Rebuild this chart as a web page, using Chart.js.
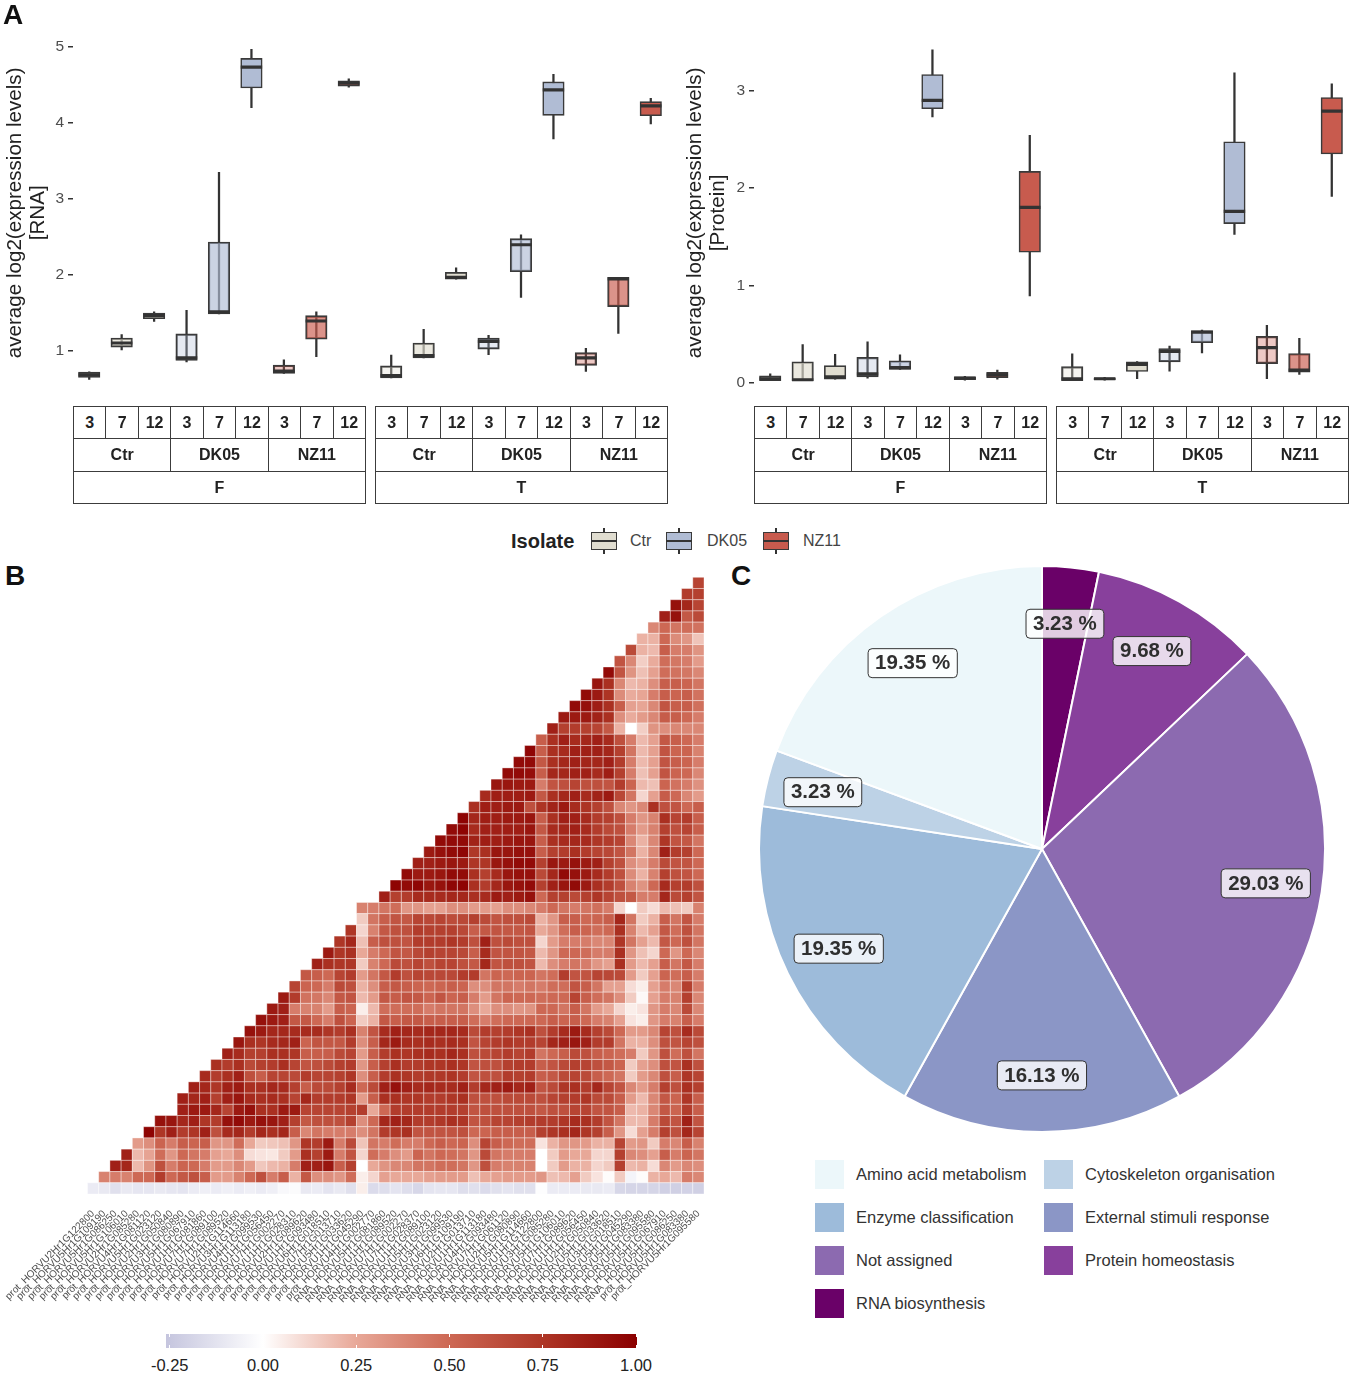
<!DOCTYPE html>
<html><head><meta charset="utf-8">
<script src="https://cdn.jsdelivr.net/npm/chart.js@4"></script>
<style>
html,body{margin:0;padding:0;background:#fff;width:1358px;height:1380px;overflow:hidden;font-family:"Liberation Sans",Arial,sans-serif}
canvas{position:absolute;display:block}
.t{position:absolute;white-space:nowrap;line-height:1}
.c{position:absolute;box-sizing:border-box;border:1.6px solid #3c3c3c;display:flex;align-items:center;justify-content:center;font-weight:bold;font-size:16px;color:#222;background:#fff;padding-top:1px}
.s{position:absolute}
</style></head><body>
<script>
// ---------- Panel A data ----------
const timeLabels=['3','7','12'];
const isolates=['Ctr','DK05','NZ11'];
const tissues=['F','T'];
const isolateFill=[[224,221,208],[176,188,212],[200,91,78]];
const timeAlpha=[0.33,0.66,1];
const rnaLow =[.62,1.01,1.385,.85,1.485,4.2,.70,.92,4.47,.64,.905,1.94,.945,1.70,3.79,.725,1.225,3.985];
const rnaQ1  =[.647,1.047,1.42,.87,1.485,4.46,.70,1.15,4.485,.64,.905,1.94,1.02,2.04,4.10,.805,1.58,4.095];
const rnaMed =[.68,1.10,1.46,.905,1.51,4.735,.73,1.39,4.525,.67,.935,1.965,1.12,2.395,4.435,.905,1.945,4.225];
const rnaQ3  =[.717,1.165,1.495,1.22,2.43,4.85,.81,1.46,4.555,.80,1.10,2.03,1.165,2.475,4.54,.975,1.965,4.28];
const rnaHigh=[.72,1.21,1.51,1.53,3.35,4.97,.88,1.51,4.58,.94,1.28,2.09,1.2,2.525,4.64,1.03,1.965,4.325];
const protLow =[.02,.02,.035,.045,.135,2.73,.025,.036,.89,.02,.026,.04,.118,.305,1.524,.04,.084,1.913];
const protQ1  =[.02,.02,.035,.06,.135,2.815,.03,.05,1.34,.02,.03,.115,.213,.41,1.634,.195,.107,2.35];
const protMed =[.04,.03,.06,.09,.155,2.90,.048,.08,1.80,.04,.04,.187,.32,.518,1.76,.36,.128,2.79];
const protQ3  =[.07,.215,.175,.26,.225,3.165,.06,.105,2.17,.165,.05,.213,.35,.536,2.475,.477,.30,2.93];
const protHigh=[.09,.39,.29,.42,.285,3.42,.066,.128,2.54,.295,.055,.217,.375,.54,3.184,.59,.455,3.07];
// ---------- Panel C data ----------
const pieCats=['RNA biosynthesis','Protein homeostasis','Not assigned','External stimuli response','Enzyme classification','Cytoskeleton organisation','Amino acid metabolism'];
const pieVals=[3.23,9.68,29.03,16.13,19.35,3.23,19.35];
const pieCols=['#6a0168','#88409c','#8c6ab0','#8b96c6','#9dbbda','#bdd2e6','#ecf7fa'];
const legendOrder=[6,5,4,3,2,1,0];
// ---------- Panel B data ----------
const geneLabels=['prot_HORVU2Hr1G122800','prot_HORVU5Hr1G109190','prot_HORVU5Hr1G086250','prot_HORVU5Hr1G106010','prot_HORVU2Hr1G085280','prot_HORVU4Hr1G081120','prot_HORVU5Hr1G023120','prot_HORVU2Hr1G050840','prot_HORVU3Hr1G080890','prot_HORVU5Hr1G067910','prot_HORVU1Hr1G081860','prot_HORVU7Hr1G089100','prot_HORVU7Hr1G089520','prot_HORVU2Hr1G114660','prot_HORVU3Hr1G113180','prot_HORVU4Hr1G099530','prot_HORVU1Hr1G056450','prot_HORVU7Hr1G002270','prot_HORVU1Hr1G028310','prot_HORVU2Hr1G089620','prot_HORVU1Hr1G093480','prot_HORVU6Hr1G018510','prot_HORVU7Hr1G013710','prot_HORVU5Hr1G033620','prot_HORVU1Hr1G045290','prot_HORVU4Hr1G002770',
'RNA_HORVU5Hr1G081860','RNA_HORVU1Hr1G089520','RNA_HORVU7Hr1G002270','RNA_HORVU7Hr1G028370','RNA_HORVU1Hr1G089100','RNA_HORVU5Hr1G023120','RNA_HORVU3Hr1G099530','RNA_HORVU6Hr1G109190','RNA_HORVU2Hr1G013710','RNA_HORVU1Hr1G113180','RNA_HORVU4Hr1G093480','RNA_HORVU7Hr1G061120','RNA_HORVU2Hr1G080890','RNA_HORVU5Hr1G114660','RNA_HORVU1Hr1G122800','RNA_HORVU3Hr1G085280','RNA_HORVU5Hr1G106010','RNA_HORVU7Hr1G089620','RNA_HORVU1Hr1G056450','RNA_HORVU2Hr1G050840','RNA_HORVU5Hr1G033620','RNA_HORVU3Hr1G018510','RNA_HORVU5Hr1G045290','RNA_HORVU5Hr1G083380','RNA_HORVU5Hr1G095580','RNA_HORVU5Hr1G067910','RNA_HORVU5Hr1G086250','prot_HORVU5Hr1G083380','prot_HORVU5Hr1G095580'];
const corrRows=[
[.68],
[.72,.7],
[.92,.82,.68],
[.85,.92,.58,.65],
[.38,.50,.45,.48,.46],
[.22,.22,.50,.36,.32,.17],
[.65,.22,.2,.55,.42,.42,.33],
[.6,.38,.14,.24,.48,.44,.42,.3],
[.95,.6,.33,.18,.28,.48,.46,.44,.38],
[.9,.78,.38,.2,.22,.35,.55,.55,.52,.45],
[.95,.88,.76,.36,.24,.26,.42,.55,.52,.55,.46],
[.95,.93,.86,.78,.55,.28,.26,.38,.6,.55,.55,.47],
[.88,.88,.88,.84,.78,.35,.24,.3,.38,.56,.55,.5,.42],
[.85,.7,.72,.7,.68,.58,.22,0,.14,.33,.35,.38,.38,.38],
[.55,.78,.85,.8,.82,.85,.8,.62,.42,.2,.28,.58,.55,.5,.42],
[.97,.55,.78,.8,.85,.85,.85,.82,.7,.45,.2,.28,.6,.52,.52,.4],
[.95,.95,.58,.78,.82,.85,.83,.82,.85,.72,.42,.2,.28,.6,.55,.52,.42],
[.95,.95,.93,.55,.82,.82,.85,.85,.8,.86,.7,.42,.18,.28,.6,.52,.5,.38],
[.9,.9,.88,.88,.42,.6,.62,.68,.62,.62,.6,.72,.52,.2,.18,.52,.46,.42,.34],
[.8,.86,.86,.86,.88,.58,.78,.82,.85,.8,.84,.88,.66,.45,.12,.28,.56,.5,.38,.3],
[.78,.86,.86,.88,.88,.62,.76,.84,.88,.8,.76,.7,.62,.38,.32,.38,.78,.62,.6,.5,.55],
[.98,.82,.86,.86,.88,.88,.9,.55,.78,.85,.85,.8,.72,.7,.62,.42,.32,.4,.78,.68,.72,.55],
[.95,.98,.8,.85,.85,.86,.86,.9,.58,.8,.82,.85,.8,.72,.65,.62,.42,.3,.4,.7,.62,.68,.55],
[.95,.95,.95,.84,.86,.86,.88,.9,.9,.55,.78,.8,.82,.8,.75,.72,.68,.38,.22,.38,.75,.6,.58,.45],
[.88,.92,.95,.97,.74,.78,.9,.9,.92,.92,.55,.7,.72,.78,.72,.68,.66,.6,.45,.22,.38,.85,.72,.7,.5],
[.85,.85,.88,.9,.88,.75,.75,.9,.92,.95,.95,.7,.9,.88,.92,.88,.85,.7,.62,.35,.28,.42,.65,.6,.6,.5],
[.95,.88,.88,.9,.95,.95,.78,.7,.8,.9,.92,.92,.65,.82,.95,.92,.88,.8,.72,.62,.36,.22,.4,.7,.62,.6,.5],
[.98,.95,.97,.9,.92,.97,.98,.78,.72,.82,.9,.92,.95,.7,.85,.9,.95,.88,.78,.72,.62,.4,.33,.5,.8,.7,.72,.62],
[.85,.7,.72,.8,.8,.8,.82,.82,.78,.8,.88,.85,.88,.92,.5,.7,.7,.65,.7,.75,.68,.62,.58,.42,.42,.82,.65,.7,.6],
[.4,.42,.45,.48,.32,.32,.28,.28,.35,.35,.3,.3,.28,.35,.35,.38,.42,.5,.45,.42,.45,.47,.42,.12,0,.15,.1,.2,.18,.15,.4],
[.15,.45,.55,.6,.58,.68,.66,.68,.64,.66,.7,.65,.6,.62,.62,.65,.22,.32,.55,.55,.5,.52,.55,.82,.45,.15,.22,.55,.45,.6,.42],
[.75,.12,.4,.58,.62,.62,.72,.7,.7,.7,.66,.55,.58,.6,.58,.58,.6,.25,.32,.48,.55,.52,.48,.5,.78,.4,.2,.28,.58,.48,.62,.45],
[.75,.82,.18,.55,.62,.62,.6,.72,.72,.72,.75,.72,.62,.85,.62,.65,.62,.62,.12,.3,.42,.42,.42,.38,.38,.75,.45,.28,.2,.58,.5,.62,.45],
[.88,.75,.78,.25,.42,.5,.6,.58,.66,.7,.68,.68,.66,.55,.8,.6,.6,.6,.58,.2,.32,.5,.5,.48,.42,.42,.78,.32,.18,.12,.5,.32,.5,.38],
[.85,.78,.75,.75,.15,.4,.5,.65,.62,.68,.62,.68,.68,.62,.58,.82,.6,.62,.62,.6,.2,.35,.42,.45,.42,.32,.28,.78,.3,.2,.28,.55,.45,.58,.42],
[.58,.55,.5,.68,.72,.3,.45,.58,.72,.62,.68,.66,.66,.66,.72,.72,.45,.52,.5,.52,.52,.45,.48,.72,.6,.6,.68,.66,.65,.3,.15,.28,.52,.48,.55,.42],
[.68,.52,.5,.42,.65,.62,.22,.35,.55,.58,.55,.52,.5,.52,.55,.52,.35,.35,.45,.45,.42,.45,.42,.48,.48,.6,.55,.45,.28,.28,.1,.05,.28,.42,.38,.7,.42],
[.88,.72,.46,.44,.38,.58,.6,.2,.3,.58,.56,.6,.58,.52,.6,.52,.55,.42,.3,.45,.52,.5,.5,.48,.5,.5,.68,.55,.48,.45,.35,.15,.02,.28,.42,.4,.7,.38],
[.88,.85,.42,.4,.4,.3,.55,.52,.05,.2,.48,.48,.48,.48,.42,.45,.45,.45,.35,.25,.35,.35,.32,.33,.5,.5,.45,.55,.45,.3,.25,.12,.05,.08,.32,.42,.38,.65,.38],
[.92,.88,.85,.58,.58,.5,.42,.62,.52,.15,.22,.58,.55,.58,.58,.55,.55,.55,.55,.48,.42,.48,.5,.5,.5,.5,.55,.52,.55,.5,.42,.4,.28,.08,.05,.32,.42,.4,.55,.42],
[.92,.88,.82,.82,.8,.8,.8,.75,.72,.78,.4,.6,.8,.85,.82,.8,.82,.82,.82,.8,.65,.72,.7,.72,.75,.78,.62,.72,.8,.88,.8,.7,.65,.5,.3,.3,.38,.68,.62,.8,.65],
[.9,.78,.75,.8,.82,.85,.52,.6,.58,.58,.72,.35,.55,.82,.88,.8,.78,.8,.78,.8,.78,.6,.68,.72,.75,.72,.72,.68,.82,.85,.9,.85,.72,.72,.45,.22,.22,.35,.62,.6,.68,.62],
[.85,.8,.7,.7,.78,.78,.75,.55,.55,.55,.65,.68,.3,.55,.72,.78,.75,.78,.8,.78,.82,.78,.62,.65,.68,.72,.68,.72,.45,.5,.55,.65,.62,.55,.52,.48,.42,.15,.32,.62,.48,.62,.45],
[.78,.72,.78,.65,.7,.72,.78,.68,.6,.62,.65,.7,.72,.32,.55,.7,.78,.72,.72,.75,.75,.78,.75,.6,.62,.62,.7,.72,.72,.55,.6,.65,.7,.68,.62,.58,.52,.15,.28,.35,.62,.6,.78,.62],
[.8,.72,.78,.85,.62,.55,.68,.68,.65,.72,.68,.68,.7,.75,.35,.55,.72,.78,.75,.72,.74,.74,.76,.72,.6,.62,.62,.72,.7,.72,.55,.58,.65,.68,.65,.55,.5,.45,.15,.3,.38,.62,.55,.75,.68],
[.85,.82,.75,.85,.88,.78,.78,.82,.8,.7,.55,.65,.65,.7,.8,.5,.65,.85,.92,.85,.8,.82,.8,.8,.85,.72,.82,.85,.88,.82,.85,.6,.65,.75,.78,.72,.82,.68,.6,.38,.3,.42,.7,.62,.78,.7],
[.85,.82,.85,.7,.85,.9,.8,.78,.8,.78,.68,.82,.72,.72,.72,.75,.3,.55,.78,.78,.75,.75,.72,.72,.75,.78,.62,.62,.62,.65,.65,.65,.62,.68,.7,.72,.75,.65,.65,.55,.3,.2,.38,.58,.52,.75,.55],
[.85,.88,.88,.82,.68,.88,.92,.78,.78,.88,.88,.68,.68,.68,.68,.7,.72,.25,.5,.72,.72,.72,.72,.72,.72,.7,.6,.62,.62,.62,.62,.62,.58,.62,.62,.68,.68,.6,.6,.55,.2,.22,.38,.58,.52,.72,.55],
[.92,.9,.82,.85,.75,.72,.92,.95,.88,.92,.9,.85,.7,.58,.62,.62,.62,.7,.35,.5,.82,.85,.82,.72,.72,.74,.78,.75,.6,.62,.68,.68,.7,.72,.72,.72,.75,.8,.78,.72,.6,.45,.2,.2,.42,.65,.6,.85,.6],
[.98,.75,.85,.72,.75,.85,.62,.8,.82,.72,.82,.78,.82,.55,.38,.45,.42,.42,.42,.35,.45,.72,.75,.78,.6,.6,.6,.6,.62,.5,.52,.55,.55,.55,.55,.7,.75,.78,.82,.75,.7,.55,.32,.1,.28,.42,.7,.62,.82,.68],
[.3,.35,.52,.42,.55,.52,.55,.32,.32,.48,.25,.15,.16,.18,.32,.75,.72,.88,.42,.65,.17,.45,.42,.48,.42,.42,.5,.55,.5,.52,.35,.68,.55,.5,.48,.48,.08,.22,.32,.32,.3,.22,.22,.68,.3,.32,.15,.42,.38,.55,.4],
[.85,.2,.27,.48,.32,.5,.45,.42,.28,.25,.35,.1,.08,.07,.15,.3,.78,.7,.88,.42,.6,.12,.48,.42,.35,.3,.52,.45,.5,.48,.45,.32,.65,.45,.42,.42,.42,0,.15,.3,.25,.25,.12,.12,.7,.38,.35,.28,.55,.42,.52,.45],
[.85,.82,.2,.33,.62,.42,.52,.5,.42,.3,.3,.38,.3,.16,.2,.22,.42,.85,.85,.9,.55,.7,0,.25,.33,.38,.38,.45,.45,.48,.48,.45,.32,.62,.42,.4,.4,.4,0,.15,.3,.22,.22,.12,.15,.7,.2,.22,.1,.38,.3,.38,.35],
[.4,.42,.4,.5,.5,.72,.5,.58,.62,.55,.3,.3,.4,.5,.62,.42,.55,.22,.58,.35,.35,.32,.48,.05,.12,.28,.25,.25,.25,.28,.3,.3,.3,.18,.25,.28,.3,.3,.3,.32,.18,.2,.28,.15,.08,.01,.15,-.05,.01,.22,.25,.2,.42,.38],
[-.09,-.1,-.14,-.1,-.11,-.11,-.1,-.11,-.12,-.09,-.07,-.09,-.07,-.09,-.07,-.09,-.07,-.03,-.02,-.1,-.09,-.12,-.1,-.14,.05,-.16,-.15,-.12,-.15,-.18,-.12,-.11,-.11,-.15,-.14,-.16,-.14,-.12,-.14,-.14,-.01,-.09,-.09,-.09,-.1,-.1,-.09,-.18,-.19,-.19,-.19,-.21,-.21,-.2,-.21]
];
const colorbarTicks=[-0.25,0,0.25,0.5,0.75,1];
const colorStops=[[-.26,[197,197,222]],[0,[255,255,255]],[.25,[232,168,152]],[.5,[205,104,84]],[.75,[174,54,38]],[1,[139,0,0]]];

// ---------- helpers ----------
function el(cls,css,txt){const d=document.createElement('div');d.className=cls;Object.assign(d.style,css);if(txt!==undefined)d.textContent=txt;document.body.appendChild(d);return d;}
function mkCanvas(l,t,w,h){const c=document.createElement('canvas');c.width=w;c.height=h;c.style.left=l+'px';c.style.top=t+'px';c.style.width=w+'px';c.style.height=h+'px';document.body.appendChild(c);return c;}
function heatColor(v){for(let i=1;i<colorStops.length;i++){if(v<=colorStops[i][0]){const a=colorStops[i-1],b=colorStops[i],f=Math.max(0,(v-a[0])/(b[0]-a[0]));return 'rgb('+a[1].map((x,k)=>Math.round(x+(b[1][k]-x)*f)).join(',')+')';}}return 'rgb(139,0,0)';}
Chart.defaults.font.family='"Liberation Sans",Arial,sans-serif';
Chart.defaults.animation=false;

// ---------- box panels ----------
const slotPx=292/9, gapSlots=10/slotPx;
const slotX=[];for(let i=0;i<18;i++)slotX.push(i+.5+(i>=9?gapSlots:0));
const boxFill=slotX.map((_,i)=>{const iso=Math.floor(i/3)%3,tm=i%3,c=isolateFill[iso];return `rgba(${c[0]},${c[1]},${c[2]},${timeAlpha[tm]})`;});
function boxChart(canvas,lo,q1,med,q3,hi,yMin,yMax,titleLines,axisW,padR){
 new Chart(canvas,{data:{datasets:[
  {type:'bar',order:3,grouped:false,barThickness:1.6,backgroundColor:'#333',borderWidth:0,data:slotX.map((x,i)=>({x,y:[lo[i],hi[i]]}))},
  {type:'bar',order:2,grouped:false,barThickness:21.5,backgroundColor:boxFill,borderColor:'#3a3a3a',borderWidth:1.6,borderSkipped:false,data:slotX.map((x,i)=>({x,y:[q1[i],q3[i]]}))},
  {type:'scatter',order:1,showLine:false,pointStyle:'line',pointRadius:10.7,pointBorderColor:'#333',pointBorderWidth:3.2,data:slotX.map((x,i)=>({x,y:med[i]}))}
 ]},options:{responsive:false,devicePixelRatio:1,layout:{autoPadding:false,padding:{left:0,right:padR,top:30,bottom:5}},
  plugins:{legend:{display:false},tooltip:{enabled:false}},
  scales:{x:{type:'linear',display:false,min:0,max:18+gapSlots,offset:false,ticks:{display:false},afterFit(s){s.height=0;}},
   y:{type:'linear',min:yMin,max:yMax,afterFit(s){s.width=axisW;},border:{display:false},
    grid:{drawOnChartArea:false,drawTicks:true,tickLength:5,color:'#333',lineWidth:1.5},
    ticks:{color:'#4d4d4d',font:{size:15.5},padding:4,stepSize:1,includeBounds:false,callback:v=>v},
    title:{display:true,text:titleLines,color:'#222',font:{size:20.6,lineHeight:23/20.6},padding:{top:3.5,bottom:0}}}}}});
}
boxChart(mkCanvas(0,0,680,409),rnaLow,rnaQ1,rnaMed,rnaQ3,rnaHigh,.406,5.224,['average log2(expression levels)','[RNA]'],73,13);
boxChart(mkCanvas(680,0,678,409),protLow,protQ1,protMed,protQ3,protHigh,-.134,3.623,['average log2(expression levels)','[Protein]'],74,10);

// ---------- strips ----------
function strips(x0){
 [0,1].forEach(f=>{const left=x0+f*302,cw=292/9;
  for(let i=0;i<9;i++)el('c',{left:left+i*cw+'px',top:'406px',width:cw+1+'px',height:'33px'},timeLabels[i%3]);
  for(let i=0;i<3;i++)el('c',{left:left+i*cw*3+'px',top:'438px',width:cw*3+1+'px',height:'33.5px'},isolates[i]);
  el('c',{left:left+'px',top:'470.5px',width:'293px',height:'33px'},tissues[f]);
 });
}
strips(73);strips(754);

// ---------- isolate legend ----------
el('t',{left:'511px',top:'531px',fontSize:'20px',fontWeight:'bold',color:'#222'},'Isolate');
[[591,630],[666,707],[763,803]].forEach((p,i)=>{const c=isolateFill[i];
 el('s',{left:p[0]+12.3+'px',top:'528px',width:'1.5px',height:'26px',background:'#333'});
 el('s',{left:p[0]+'px',top:'532px',width:'26px',height:'18px',boxSizing:'border-box',border:'1.6px solid #3a3a3a',background:`rgb(${c})`});
 el('s',{left:p[0]+'px',top:'539.5px',width:'26px',height:'2.6px',background:'#333'});
 el('t',{left:p[1]+'px',top:'533px',fontSize:'16px',color:'#444'},isolates[i]);
});

// ---------- panel letters ----------
el('t',{left:'3px',top:'1px',fontSize:'28px',fontWeight:'bold',color:'#111'},'A');
el('t',{left:'5px',top:'562px',fontSize:'28px',fontWeight:'bold',color:'#111'},'B');
el('t',{left:'731px',top:'562px',fontSize:'28px',fontWeight:'bold',color:'#111'},'C');

// ---------- heatmap ----------
const heatCells=[];
corrRows.forEach((row,r)=>row.forEach((v,i)=>{const c=55-row.length+i;heatCells.push({x:geneLabels[c],y:r,v});}));
new Chart(mkCanvas(0,570,720,750),{type:'scatter',data:{labels:geneLabels,datasets:[{
  data:heatCells,pointStyle:'rect',pointRadius:11.21/Math.SQRT2,
  pointBackgroundColor:heatCells.map(d=>heatColor(d.v)),pointBorderColor:'rgba(255,255,255,.75)',pointBorderWidth:.5}]},
 options:{responsive:false,devicePixelRatio:1,clip:false,layout:{autoPadding:false,padding:{left:87.5,right:16,top:7.3,bottom:0}},
  plugins:{legend:{display:false},tooltip:{enabled:false}},
  scales:{x:{type:'category',labels:geneLabels,offset:true,afterFit(s){s.height=126;},border:{display:false},
    grid:{display:false},ticks:{autoSkip:false,maxRotation:45,minRotation:45,color:'#4d4d4d',font:{size:10},padding:6}},
   y:{type:'linear',display:false,reverse:true,min:-.5,max:54.5}}}});

// ---------- colour bar ----------
const barL=166,barR=637,vToX=v=>263+(v)*373;
const grad=colorStops.map(s=>`rgb(${s[1]}) ${(vToX(s[0])-barL)/(barR-barL)*100}%`).join(',');
el('s',{left:barL+'px',top:'1334px',width:barR-barL+'px',height:'14px',background:`linear-gradient(to right,${grad})`});
colorbarTicks.forEach(v=>{const x=vToX(v);
 el('s',{left:x-.5+'px',top:'1334px',width:'1px',height:'3px',background:'#fff'});
 el('s',{left:x-.5+'px',top:'1345px',width:'1px',height:'3px',background:'#fff'});
 el('t',{left:x-40+'px',width:'80px',textAlign:'center',top:'1357px',fontSize:'16.5px',color:'#222'},v.toFixed(2));
});

// ---------- pie ----------
const pieLabels={id:'pieLabels',afterDatasetsDraw(chart){const ctx=chart.ctx,arcs=chart.getDatasetMeta(0).data;
 ctx.save();ctx.font='bold 20.5px "Liberation Sans",Arial,sans-serif';ctx.textAlign='center';ctx.textBaseline='middle';
 arcs.forEach((a,i)=>{const m=(a.startAngle+a.endAngle)/2,R=a.outerRadius*.8,x=a.x+Math.cos(m)*R,y=a.y+Math.sin(m)*R,
  txt=pieVals[i].toFixed(2)+' %',w=ctx.measureText(txt).width+14,h=29;
  ctx.beginPath();ctx.roundRect(x-w/2,y-h/2,w,h,4);ctx.fillStyle='rgba(255,255,255,.8)';ctx.fill();ctx.lineWidth=1;ctx.strokeStyle='#333';ctx.stroke();
  ctx.fillStyle='#2f2f2f';ctx.fillText(txt,x,y+.5);});
 ctx.restore();}};
new Chart(mkCanvas(758,565,568,568),{type:'pie',data:{labels:pieCats,datasets:[{data:pieVals,backgroundColor:pieCols,borderColor:'#fff',borderWidth:2}]},
 options:{responsive:false,devicePixelRatio:1,layout:{autoPadding:false,padding:0},plugins:{legend:{display:false},tooltip:{enabled:false}}},plugins:[pieLabels]});

// pie legend
legendOrder.forEach((idx,k)=>{const col=k%2,row=Math.floor(k/2),x=col?1044:815,y=1160+row*43;
 el('s',{left:x+'px',top:y+'px',width:'29px',height:'29px',background:pieCols[idx]});
 el('t',{left:x+41+'px',top:y+6+'px',fontSize:'16.5px',color:'#333'},pieCats[idx]);
});
</script>
</body></html>
